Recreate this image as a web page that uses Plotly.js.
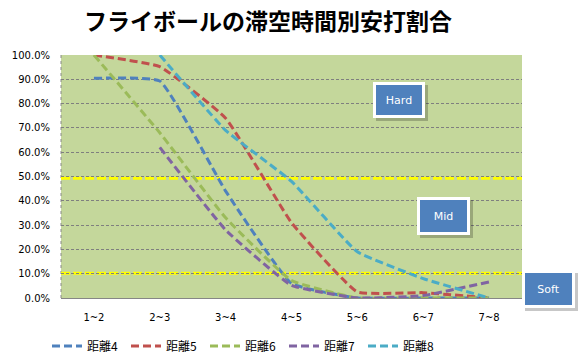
<!DOCTYPE html>
<html><head><meta charset="utf-8">
<script src="https://cdn.plot.ly/plotly-3.0.1.min.js"></script>
<style>html,body{margin:0;padding:0;background:#fff}#chart{width:581px;height:360px}</style>
</head><body><div id="chart"></div>
<script>
var categories = ["1~2","2~3","3~4","4~5","5~6","6~7","7~8"];
var seriesNames = ["距離4","距離5","距離6","距離7","距離8"];
var dist4 = [0.904, 0.893, 0.44, 0.06, 0.0, 0.0, 0.0];
var dist5 = [1.0, 0.952, 0.74, 0.31, 0.025, 0.022, 0.0];
var dist6 = [1.0, 0.68, 0.33, 0.072, 0.0, 0.0, 0.0];
var dist7 = [null, 0.62, 0.28, 0.052, 0.0, 0.01, 0.066];
var dist8 = [null, 1.0, 0.69, 0.48, 0.19, 0.08, 0.0];
var seriesColors = ["#4F81BD","#C0504D","#9BBB59","#8064A2","#4BACC6"];
var thresholds = [0.493, 0.102];
var zoneLabels = ["Hard","Mid","Soft"];

var allSeries = [dist4, dist5, dist6, dist7, dist8];
var traces = allSeries.map(function(vals, i){
  return {x: categories, y: vals, type:'scatter', mode:'lines', name: seriesNames[i],
    line:{color: seriesColors[i], width:3, dash:'8px,4px', shape:'spline', smoothing:0.35},
    connectgaps:false};
});

var L=61, R=522, T=55, B=298;
function px(x){return (x-L)/(R-L);}
function py(y){return (B-y)/(B-T);}

var shapes = [];
shapes.push({type:'line', xref:'paper', yref:'paper', x0:0, x1:0, y0:0, y1:1, line:{color:'#8a8a8a', width:1, dash:'dot'}, layer:'between'});
thresholds.forEach(function(t){
  shapes.push({type:'line', xref:'paper', yref:'y', x0:0, x1:1, y0:t, y1:t, line:{color:'#FFFF00', width:3, dash:'9px,3px'}, layer:'between'});
});
var boxes = [[399,100,52,36],[443.5,216,53,38],[548.5,289,53,38]];
var annotations = [];
boxes.forEach(function(b, i){
  var cx=b[0], cy=b[1], w=b[2], h=b[3];
  shapes.push({type:'rect', xref:'paper', yref:'paper', x0:px(cx-w/2+3), x1:px(cx+w/2+3), y0:py(cy+h/2+3), y1:py(cy-h/2+3), fillcolor:'rgba(0,0,0,0.22)', line:{width:0}, layer:'above'});
  annotations.push({xref:'paper', yref:'paper', x:px(cx), y:py(cy), xanchor:'center', yanchor:'middle', showarrow:false,
    text: zoneLabels[i], font:{family:'DejaVu Sans', size:11, color:'#ffffff'},
    bgcolor:'#4F81BD', bordercolor:'#ffffff', borderwidth:3, borderpad:0, width:w-6, height:h-6});
});

var layout = {
  width:581, height:360,
  margin:{l:L, r:581-R, t:T, b:360-B, autoexpand:false},
  paper_bgcolor:'#ffffff', plot_bgcolor:'#C4D79B',
  title:{text:'フライボールの滞空時間別安打割合', x:268/581, xref:'container', xanchor:'center', y:1-22/360, yref:'container', yanchor:'middle',
    font:{family:'Noto Sans CJK JP', size:23, color:'#000', weight:'bold'}},
  xaxis:{type:'category', range:[-0.5,6.5], showgrid:false, showline:true, linecolor:'#868686', linewidth:1,
    ticks:'', ticklabelstandoff:10, tickfont:{family:'DejaVu Sans', size:10, color:'#000'}, zeroline:false, fixedrange:true},
  yaxis:{range:[0,1], dtick:0.1, tickformat:'.1%', showgrid:true, gridcolor:'#7f7f7f', gridwidth:1, griddash:'3px,2px',
    showline:false, zeroline:false, ticks:'', ticklabelstandoff:10, tickfont:{family:'DejaVu Sans', size:10, color:'#000'}, fixedrange:true},
  showlegend:true,
  legend:{orientation:'h', x:px(47), xanchor:'left', y:py(346), yanchor:'middle', font:{family:'Noto Sans CJK JP', size:12, color:'#000'},
    entrywidth:34, entrywidthmode:'pixels', itemwidth:30, bgcolor:'rgba(0,0,0,0)'},
  shapes:shapes, annotations:annotations
};
Plotly.newPlot('chart', traces, layout, {staticPlot:true, displayModeBar:false});
</script></body></html>
